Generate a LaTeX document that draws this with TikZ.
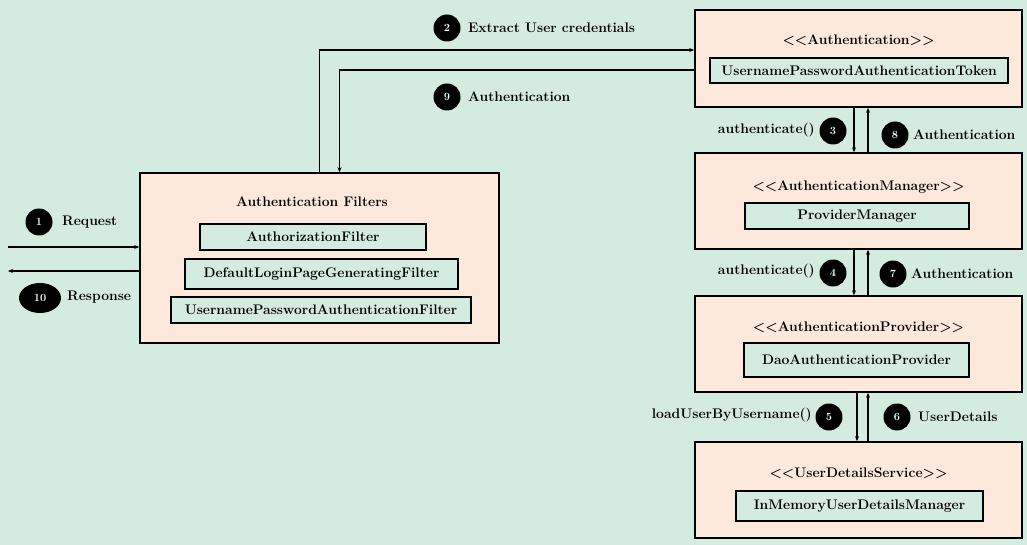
\documentclass[tikz,border=0pt]{standalone}
\usetikzlibrary{arrows.meta,shapes.geometric}
\definecolor{bggreen}{RGB}{212,235,223}
\definecolor{peach}{RGB}{252,233,219}
\tikzset{
  txt/.style={font=\fontsize{13.9}{16}\selectfont\bfseries},
  outerbox/.style 2 args={draw, line width=1.6pt, fill=peach, minimum width=#1, minimum height=#2, inner sep=0},
  innerbox/.style 2 args={draw, line width=1.4pt, fill=bggreen, txt, minimum width=#1, minimum height=#2, inner sep=0},
  num/.style={circle, fill=black, text=white, font=\fontsize{11}{12}\selectfont\bfseries, minimum size=27pt, inner sep=0},
  lbl/.style={txt, inner sep=0},
  arr/.style={line width=1.3pt, -{Stealth[length=5pt,width=4pt]}}
}
\begin{document}
\begin{tikzpicture}[x=1pt, y=-1pt]
      \fill[bggreen] (0,0) rectangle (1027,545);
      \useasboundingbox (0,0) rectangle (1027,545);

      \node[outerbox={359pt}{170pt}] (filters) at (319.5,258) {};
      \node[lbl] (filterstitle) at (312,202) {Authentication Filters};
      \node[innerbox={226pt}{26pt}] (authzfilter) at (313,237) {AuthorizationFilter};
      \node[innerbox={273pt}{30pt}] (loginfilter) at (321.5,274) {DefaultLoginPageGeneratingFilter};
      \node[innerbox={300pt}{26pt}] (upfilter) at (321,310) {UsernamePasswordAuthenticationFilter};

      \node[outerbox={327pt}{97pt}] (auth) at (858.5,58.5) {};
      \node[lbl] (authtitle) at (858.5,40) {<{}<Authentication>{}>};
      \node[innerbox={298pt}{25pt}] (token) at (859,70.5) {UsernamePasswordAuthenticationToken};

      \node[outerbox={327pt}{96pt}] (mgr) at (858.5,201) {};
      \node[lbl] (mgrtitle) at (858.5,187) {<{}<AuthenticationManager>{}>};
      \node[innerbox={224pt}{26pt}] (providermgr) at (857,216) {ProviderManager};

      \node[outerbox={327pt}{96pt}] (prov) at (858.5,344) {};
      \node[lbl] (provtitle) at (858.5,327) {<{}<AuthenticationProvider>{}>};
      \node[innerbox={225pt}{34pt}] (daoprov) at (856.5,360) {DaoAuthenticationProvider};

      \node[outerbox={327pt}{96pt}] (uds) at (858.5,490) {};
      \node[lbl] (udstitle) at (858.5,473) {<{}<UserDetailsService>{}>};
      \node[innerbox={247pt}{30pt}] (inmem) at (859.5,506) {InMemoryUserDetailsManager};

      \coordinate (reqstart) at (8,247);
      \coordinate (respend) at (8,271);
      \draw[arr] (reqstart) -- (reqstart -| filters.west);
      \draw[arr] (respend -| filters.west) -- (respend);
      \node[num] (n1) at (39,222) {1};
      \node[lbl, anchor=west] (request) at (62,222) {Request};
      \node[num, ellipse, minimum width=42pt, minimum height=30pt] (n10) at (40,298) {10};
      \node[lbl, anchor=west] (response) at (67,297) {Response};

      \draw[arr] (filters.north) |- ([yshift=8.5pt]auth.west);
      \draw[arr] ([yshift=-11.5pt]auth.west) -| ([xshift=20pt]filters.north);
      \node[num] (n2) at (447,28) {2};
      \node[lbl, anchor=west] (extract) at (468,28) {Extract User credentials};
      \node[num] (n9) at (447,97) {9};
      \node[lbl, anchor=west] (authret) at (468,97) {Authentication};

      \draw[arr] ([xshift=-4.5pt]auth.south) -- ([xshift=-4.5pt]mgr.north);
      \draw[arr] ([xshift=9.5pt]mgr.north) -- ([xshift=9.5pt]auth.south);
      \node[num] (n3) at (833,131) {3};
      \node[lbl, anchor=east] (call3) at (815,130) {authenticate()};
      \node[num] (n8) at (895,135) {8};
      \node[lbl, anchor=west] (ret8) at (913,135) {Authentication};

      \draw[arr] ([xshift=-4.5pt]mgr.south) -- ([xshift=-4.5pt]prov.north);
      \draw[arr] ([xshift=9.5pt]prov.north) -- ([xshift=9.5pt]mgr.south);
      \node[num] (n4) at (833,273) {4};
      \node[lbl, anchor=east] (call4) at (815,271) {authenticate()};
      \node[num] (n7) at (893,274) {7};
      \node[lbl, anchor=west] (ret7) at (911,274) {Authentication};

      \draw[arr] ([xshift=-1.5pt]prov.south) -- ([xshift=-1.5pt]uds.north);
      \draw[arr] ([xshift=9.5pt]uds.north) -- ([xshift=9.5pt]prov.south);
      \node[num] (n5) at (829,417) {5};
      \node[lbl, anchor=east] (call5) at (812,415) {loadUserByUsername()};
      \node[num] (n6) at (897,417) {6};
      \node[lbl, anchor=west] (ret6) at (918,417) {UserDetails};
  \end{tikzpicture}
\end{document}
